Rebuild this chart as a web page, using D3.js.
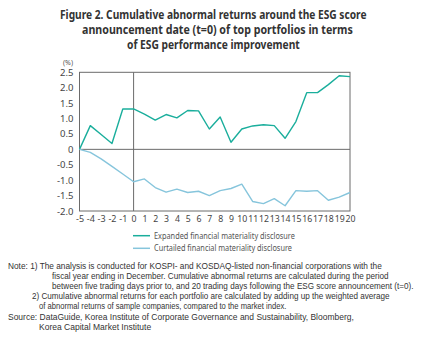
<!DOCTYPE html>
<html><head><meta charset="utf-8">
<script src="https://cdn.jsdelivr.net/npm/d3@7"></script>
<style>
body{margin:0;background:#fff;}
svg{display:block;font-family:"Noto Sans","Open Sans",sans-serif;}
</style></head>
<body>
<svg id="c" width="424" height="361"></svg>
<script>
const days = [-5,-4,-3,-2,-1,0,1,2,3,4,5,6,7,8,9,10,11,12,13,14,15,16,17,18,19,20];
const expanded = [0,0.77,0.48,0.19,1.31,1.31,1.14,0.95,1.13,1.02,1.26,1.25,0.66,1.05,0.23,0.66,0.76,0.80,0.77,0.36,0.90,1.84,1.84,2.10,2.39,2.36];
const curtailed = [0,-0.10,-0.31,-0.55,-0.80,-1.05,-0.96,-1.24,-1.39,-1.29,-1.40,-1.36,-1.50,-1.34,-1.27,-1.13,-1.69,-1.76,-1.60,-1.83,-1.34,-1.36,-1.34,-1.65,-1.55,-1.40];
const yTicks = [2.5,2.0,1.5,1.0,0.5,0,-0.5,-1.0,-1.5,-2.0];
const yTickLabels = ["2.5","2.0","1.5","1.0","0.5","0","-0.5","-1.0","-1.5","-2.0"];
const seriesNames = ["Expanded financial materiality disclosure","Curtailed financial materiality disclosure"];
const titleLines = ["Figure 2. Cumulative abnormal returns around the ESG score","announcement date (t=0) of top portfolios in terms","of ESG performance improvement"];
const noteLines = [
 "Note: 1) The analysis is conducted for KOSPI- and KOSDAQ-listed non-financial corporations with the",
 "fiscal year ending in December. Cumulative abnormal returns are calculated during the period",
 "between five trading days prior to, and 20 trading days following the ESG score announcement (t=0).",
 "2) Cumulative abnormal returns for each portfolio are calculated by adding up the weighted average",
 "of abnormal returns of sample companies, compared to the market index.",
 "Source: DataGuide, Korea Institute of Corporate Governance and Sustainability, Bloomberg,",
 "Korea Capital Market Institute"];

const svg = d3.select("#c");
const colors = ["#1aae9c","#86c5dc"];
const x = d3.scaleLinear().domain([-5,20]).range([79.5,350]);
const y = d3.scaleLinear().domain([-2,2.5]).range([211,72.3]);

// place text horizontally scaled to span x0..x1
function fitText(str, x0, x1, yb, size, weight, fill, family){
  const t = svg.append("text").attr("x",0).attr("y",0).attr("font-size",size)
    .attr("font-weight",weight).attr("fill",fill).text(str);
  if (family) t.attr("font-family",family);
  const w = t.node().getComputedTextLength();
  const sx = (x1-x0)/w;
  t.attr("transform",`translate(${x0},${yb}) scale(${sx},1)`);
  return t;
}

// title
const tPos = [{y:19,x0:60,x1:367},{y:34,x0:82,x1:353},{y:49,x0:127,x1:300}];
titleLines.forEach((t,i)=>fitText(t,tPos[i].x0,tPos[i].x1,tPos[i].y,12.5,"bold","#333"));

// frame
svg.append("rect").attr("x",x(-5)).attr("y",y(2.5)).attr("width",x(20)-x(-5)).attr("height",y(-2)-y(2.5))
  .attr("fill","none").attr("stroke","#6b6b6b").attr("stroke-width",1);
svg.append("line").attr("x1",x(-5)).attr("x2",x(20)).attr("y1",y(0)).attr("y2",y(0)).attr("stroke","#6b6b6b");
svg.append("line").attr("x1",x(0)).attr("x2",x(0)).attr("y1",y(2.5)).attr("y2",y(-2)).attr("stroke","#6b6b6b");

// y labels
svg.append("text").attr("x",63).attr("y",65).attr("font-size",7).attr("fill","#555").text("(%)");
const yAxis = d3.axisLeft(y).tickValues(yTicks).tickSize(0).tickPadding(6)
  .tickFormat((d,i)=>yTickLabels[i]);
const gy = svg.append("g").attr("transform",`translate(${x(-5)},0)`).call(yAxis);
gy.select(".domain").remove();
gy.selectAll("text").attr("font-size",9.5).attr("fill","#444").attr("font-family","'Noto Sans',sans-serif");

const xAxis = d3.axisBottom(x).tickValues(days).tickSize(0).tickPadding(5).tickFormat(d=>d);
const gx = svg.append("g").attr("transform",`translate(0,${y(-2)})`).call(xAxis);
gx.select(".domain").remove();
gx.selectAll(".tick text").each(function(d){
  const t = d3.select(this).attr("font-size",9).attr("fill","#444").attr("font-family","'Noto Sans',sans-serif");
  const w = this.getComputedTextLength();
  const target = Math.abs(d)>=10?10:(d<0?8.5:5);
  const sx = Math.min(1,target/w);
  t.attr("x",null).attr("text-anchor","middle").attr("transform",`scale(${sx},1)`);
});

// lines
const line = d3.line().x((d,i)=>x(days[i])).y(d=>y(d));
[expanded,curtailed].forEach((s,i)=>{
  svg.append("path").datum(s).attr("d",line).attr("fill","none")
    .attr("stroke",colors[i]).attr("stroke-width",1.4).attr("stroke-linejoin","round");
});

// legend
seriesNames.forEach((n,i)=>{
  const ly = 235.7 + i*12.6;
  svg.append("line").attr("x1",133).attr("x2",150).attr("y1",ly).attr("y2",ly).attr("stroke",colors[i]).attr("stroke-width",1.5);
  fitText(n,154,i==0?295:292,ly+3,8.5,"normal","#555");
});

// notes
const nPos = [{x0:8,x1:381,y:269},{x0:52,x1:388,y:279},{x0:52,x1:413,y:289},{x0:32,x1:389,y:299},{x0:39,x1:286,y:308.5},{x0:8,x1:353,y:319.5},{x0:39,x1:151,y:330}];
noteLines.forEach((t,i)=>fitText(t,nPos[i].x0,nPos[i].x1,nPos[i].y,8.4,"normal","#333","'Liberation Sans',Arial,sans-serif"));
</script>
</body></html>
